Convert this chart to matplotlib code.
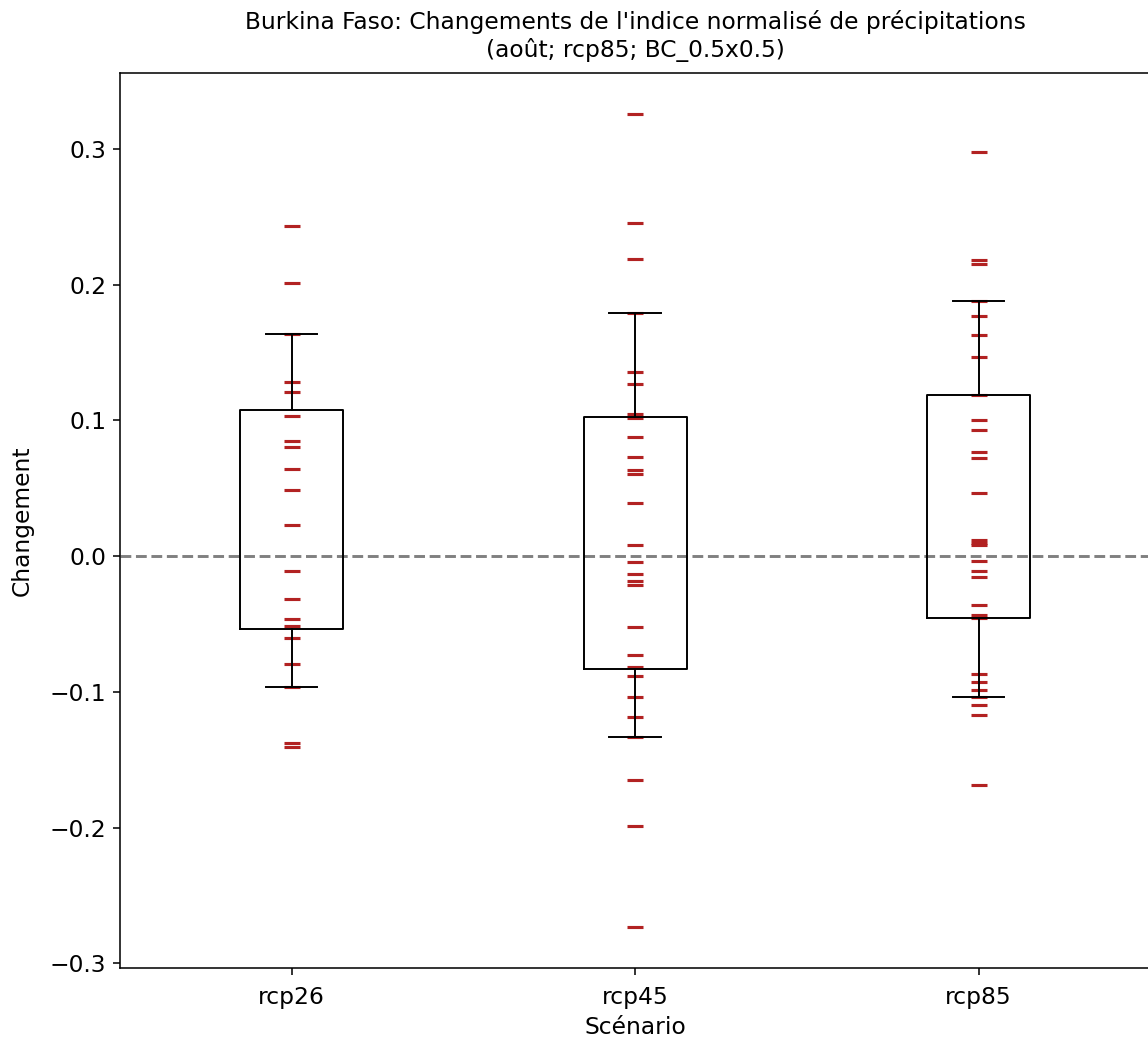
import matplotlib
matplotlib.use("Agg")
import matplotlib.pyplot as plt

scenarios = ["rcp26", "rcp45", "rcp85"]

rcp26 = [0.243, 0.201, 0.1635, 0.128, 0.1206, 0.1035, 0.0852, 0.0803, 0.0644,
         0.0485, 0.0233, -0.011, -0.0318, -0.0465, -0.0512, -0.060, -0.0794,
         -0.0963, -0.1375, -0.1404]

rcp45 = [0.326, 0.2454, 0.2187, 0.179, 0.1357, 0.1272, 0.1051, 0.1015, 0.088,
         0.0733, 0.0635, 0.0603, 0.039, 0.0084, -0.0045, -0.0134, -0.0185,
         -0.0215, -0.0523, -0.073, -0.0815, -0.0885, -0.1037, -0.1184, -0.133,
         -0.1648, -0.199, -0.2735]

rcp85 = [0.298, 0.2185, 0.2152, 0.1883, 0.1773, 0.1626, 0.1467, 0.1186, 0.1002,
         0.0929, 0.077, 0.072, 0.0464, 0.0118, 0.0100, 0.0085, -0.0038, -0.0112,
         -0.0156, -0.0363, -0.0437, -0.0455, -0.0865, -0.0927, -0.0988, -0.1035,
         -0.1098, -0.1171, -0.1683]

donnees = [rcp26, rcp45, rcp85]

fig = plt.figure(figsize=(1148 / 140, 1039 / 140), dpi=140)
ax = fig.add_axes([0.1045, 0.0683, 0.8975, 0.8614])

ax.axhline(0, color="gray", linestyle="--", linewidth=1.5, zorder=1)

# les valeurs des modeles, en petits traits rouges
for i, vals in enumerate(donnees):
    ax.plot([i + 1] * len(vals), vals, "_", color="#b22222",
            markersize=8.6, markeredgewidth=1.6, zorder=2)

ax.boxplot(donnees, whis=[10, 90], showfliers=False,
           boxprops=dict(color="black"),
           whiskerprops=dict(color="black"),
           capprops=dict(color="black"),
           medianprops=dict(linewidth=0), zorder=3)

ax.set_xticks([1, 2, 3])
ax.set_xticklabels(scenarios)
ax.tick_params(labelsize=12)
ax.tick_params(axis="x", pad=5.5)

ax.set_title("Burkina Faso: Changements de l'indice normalisé de précipitations\n"
             "(août; rcp85; BC_0.5x0.5)", fontsize=12, pad=8.5)
ax.set_xlabel("Scénario", fontsize=12)
ax.set_ylabel("Changement", fontsize=12, labelpad=8)

fig.savefig("out.png", dpi=140)
